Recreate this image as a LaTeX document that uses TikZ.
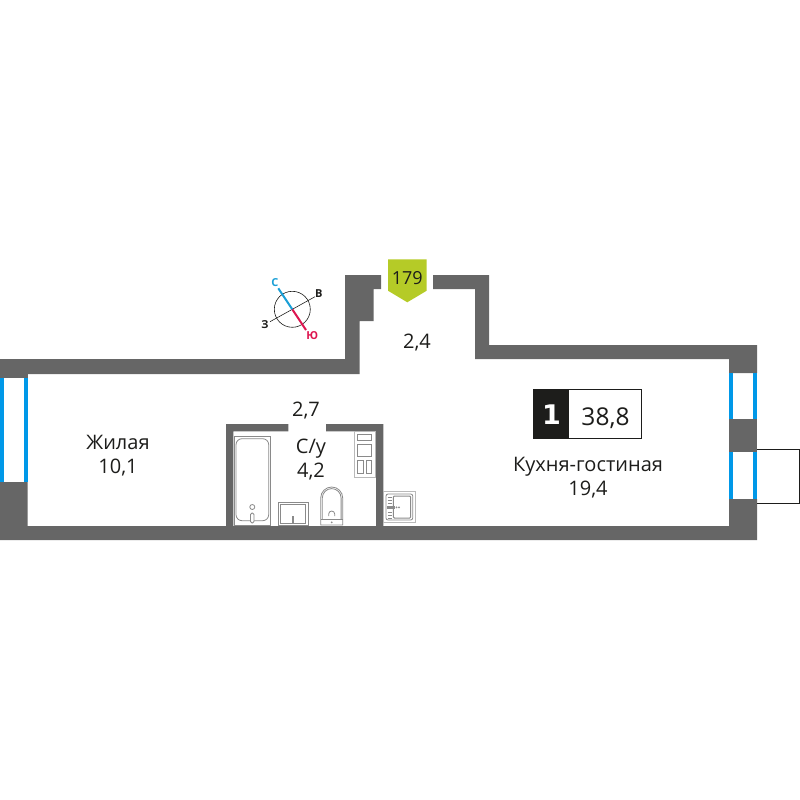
\documentclass[tikz,border=0pt]{standalone}
\usepackage{fontspec}
\setmainfont{Open Sans}
\newfontfamily\badgefont{DejaVu Sans}
\definecolor{wallgray}{HTML}{666666}
\definecolor{glassblue}{HTML}{0098E8}
\definecolor{taggreen}{HTML}{B5CB27}
\definecolor{northblue}{HTML}{1A9FD6}
\definecolor{southred}{HTML}{DD1650}
\definecolor{inkblack}{HTML}{1D1D1B}
\definecolor{fixgray}{HTML}{8A8A8A}
\tikzset{
  wall/.style={fill=wallgray, draw=none},
  glass/.style={fill=glassblue, draw=none},
  fixture/.style={draw=fixgray, line width=0.8pt},
  fixpale/.style={draw=fixgray!60, line width=1pt},
  fixfill/.style={fill=fixgray, draw=none},
  roomlabel/.style={align=center, text=inkblack, inner sep=0, font=\fontsize{20}{23.5}\selectfont},
  compasslabel/.style={inner sep=0, font=\fontsize{11}{12}\selectfont\bfseries},
}
\begin{document}
\begin{tikzpicture}[x=1pt, y=-1pt]
\useasboundingbox (0,0) rectangle (800,800);

\fill[wall] (0,359) -- (345,359) -- (345,275) -- (381,275) -- (381,289) -- (373.5,289) -- (373.5,321) -- (359.5,321) -- (359.5,374) -- (0,374) -- cycle;
\fill[wall] (433,275) -- (489,275) -- (489,345) -- (757,345) -- (757,373) -- (729,373) -- (729,359) -- (475,359) -- (475,289) -- (433,289) -- cycle;
\fill[wall] (729,419) rectangle (757,452);
\fill[wall] (757,499) -- (757,540) -- (0,540) -- (0,482) -- (27.5,482) -- (27.5,526) -- (729,526) -- (729,499) -- cycle;
\fill[wall] (0,374) rectangle (27.5,378);
\fill[wall] (226,526) -- (226,424) -- (288.3,424) -- (288.3,431.3) -- (233.3,431.3) -- (233.3,526) -- cycle;
\fill[wall] (326,424) -- (383.3,424) -- (383.3,526) -- (376,526) -- (376,431.3) -- (326,431.3) -- cycle;

\fill[glass] (0,378) rectangle (4,482);
\fill[glass] (24,378) rectangle (27.5,482);
\foreach \ytop/\ybot in {373/419, 452/499} {
  \fill[glass] (729,\ytop) rectangle (733,\ybot);
  \fill[glass] (753,\ytop) rectangle (757,\ybot);
}

\coordinate (balconyA) at (757,449);
\coordinate (balconyB) at (799.3,449);
\coordinate (balconyC) at (799.3,503);
\coordinate (balconyD) at (757,503);
\draw[inkblack, line width=0.9pt] (balconyA) -- (balconyB) -- (balconyC) -- (balconyD);

% bath
\draw[fixture] (234,436.7) rectangle (270.7,525);
\draw[fixture, rounded corners=6pt] (236,438.7) rectangle (268.7,520.7);
\draw[fixture] (252.3,507) circle (2.5);
\draw[fixture, fill=white, rounded corners=1.5pt] (250.5,513) rectangle (254,523);
% washbasin
\draw[fixture, line width=1pt] (278.3,502.3) rectangle (308,525);
\draw[fixture] (280.6,504.6) rectangle (305.8,523);
\fill[fixfill] (291.7,515.5) rectangle (294.3,524);
% toilet
\draw[fixture] (320.7,525) -- (320.7,498) arc[start angle=180, end angle=360, x radius=11, y radius=11] -- (342.7,525) -- cycle;
\draw[fixture] (322.3,519.3) -- (322.3,498) arc[start angle=180, end angle=360, x radius=9.4, y radius=9.4] -- (341.1,519.3);
\draw[fixture] (320.7,519.3) -- (342.7,519.3);
\draw[fixture] (328.7,516) -- (328.7,514) arc[start angle=180, end angle=360, x radius=3, y radius=3] -- (334.7,516);
\fill[fixfill] (331.7,522.3) circle (1);
% cabinet
\draw[fixpale] (354.7,431) rectangle (375.7,477.3);
\draw[fixture] (357.3,434.3) rectangle (371.7,440.3);
\draw[fixture] (357.3,444) rectangle (371.7,456.7);
\draw[fixture] (357.3,460) rectangle (363,473.3);
\draw[fixture] (366,460) rectangle (371.7,473.3);
% kitchen sink
\draw[fixpale] (383.3,491.3) rectangle (415.7,522.7);
\draw[fixture, rounded corners=2pt] (386,494) rectangle (412.7,520);
\draw[fixture, rounded corners=1pt, line width=1pt] (393.3,496) rectangle (410.7,518);
\foreach \ytick in {497,500,503,512,515,518} {
  \draw[fixture] (387.5,\ytick) -- (392,\ytick);
}
\fill[fixfill] (387,505.7) rectangle (395,509);
\fill[fixfill] (396.5,507.3) circle (1);
\fill[fixfill] (399,507.3) circle (1);

% compass
\node (compass) at (292.3,309.3) [draw=inkblack, circle, line width=0.6pt, minimum size=36pt, inner sep=0] {};
\coordinate (westend) at (270,321.7);
\coordinate (eastend) at (315,296.7);
\coordinate (northend) at (278.3,288.3);
\coordinate (southend) at (306,330);
\draw[inkblack, line width=0.6pt] (westend) -- (eastend);
\draw[northblue, line width=2pt] (northend) -- (compass.center);
\draw[southred, line width=2pt] (southend) -- (compass.center);
\node (north) at (275,282.7) [compasslabel, text=northblue] {С};
\node (south) at (312.3,335.7) [compasslabel, text=southred] {Ю};
\node (east) at (318.7,293.3) [compasslabel, text=inkblack] {В};
\node (west) at (265,325) [compasslabel, text=inkblack] {З};

% entrance tag
\fill[taggreen] (388,259.3) -- (426.7,259.3) -- (426.7,290.7) -- (407.3,302.3) -- (388,290.7) -- cycle;
\node (entrance) at (407.3,278) [roomlabel, font=\fontsize{18}{21}\selectfont] {179};

% badge
\node (rooms) at (551,414) [fill=inkblack, minimum width=35.4pt, minimum height=49.4pt, inner sep=0] {};
\node (roomcount) at (551.5,415) [text=white, inner sep=0, font=\fontsize{27}{30}\selectfont\badgefont\bfseries] {1};
\node (total) at (605.2,414) [draw=inkblack, line width=1.1pt, fill=white, minimum width=73pt, minimum height=49pt, inner sep=0] {};
\node (totalvalue) at (605.5,418) [text=inkblack, inner sep=0, font=\fontsize{24.5}{27}\selectfont] {38,8};

\node (living) at (118,455.5) [roomlabel] {Жилая\\10,1};
\node (hall) at (306,411) [roomlabel] {2,7};
\node (bathroom) at (311,459.5) [roomlabel] {С/у\\4,2};
\node (loggia) at (417,343) [roomlabel] {2,4};
\node (kitchen) at (588,477.5) [roomlabel] {Кухня-гостиная\\19,4};

\end{tikzpicture}
\end{document}
